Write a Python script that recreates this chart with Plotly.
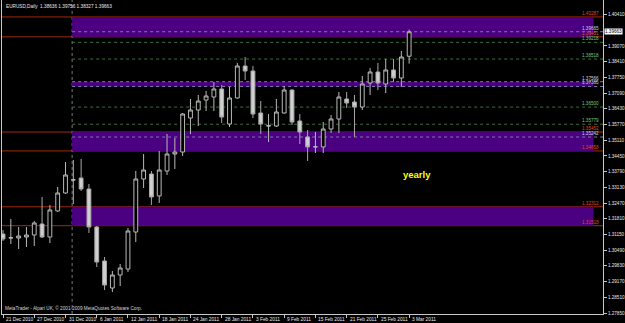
import plotly.graph_objects as go
from datetime import datetime

dates = ["2010-12-21","2010-12-22","2010-12-23","2010-12-24","2010-12-27","2010-12-28","2010-12-29",
         "2010-12-30","2010-12-31","2011-01-03","2011-01-04","2011-01-05","2011-01-06","2011-01-07",
         "2011-01-10","2011-01-11","2011-01-12","2011-01-13","2011-01-14","2011-01-17","2011-01-18",
         "2011-01-19","2011-01-20","2011-01-21","2011-01-24","2011-01-25","2011-01-26","2011-01-27",
         "2011-01-28","2011-01-31","2011-02-01","2011-02-02","2011-02-03","2011-02-04","2011-02-07",
         "2011-02-08","2011-02-09","2011-02-10","2011-02-11","2011-02-14","2011-02-15","2011-02-16",
         "2011-02-17","2011-02-18","2011-02-21","2011-02-22","2011-02-23","2011-02-24","2011-02-25",
         "2011-02-28","2011-03-01","2011-03-02","2011-03-03"]

opens = [1.31169, 1.31000, 1.31000, 1.31042, 1.31126, 1.31589, 1.31042, 1.32136, 1.32891, 1.33437,
         1.33521, 1.33059, 1.31462, 1.30034, 1.28900, 1.29446, 1.29698, 1.31252, 1.33479, 1.33689,
         1.32766, 1.33815, 1.34529, 1.34612, 1.36041, 1.36377, 1.36797, 1.36924, 1.37260, 1.35789,
         1.36882, 1.38226, 1.38016, 1.36251, 1.35705, 1.35705, 1.36251, 1.37218, 1.35915, 1.35243,
         1.34825, 1.34825, 1.35579, 1.35999, 1.36840, 1.36713, 1.36503, 1.37511, 1.37974, 1.37470,
         1.38058, 1.37722, 1.38636]
highs = [1.31336, 1.31799, 1.31462, 1.31462, 1.31715, 1.32724, 1.32388, 1.33143, 1.34193, 1.34277,
         1.34319, 1.33269, 1.31505, 1.30202, 1.29614, 1.29908, 1.31420, 1.33815, 1.34529, 1.33815,
         1.34654, 1.35369, 1.35201, 1.36251, 1.36840, 1.37007, 1.37176, 1.37554, 1.37428, 1.37344,
         1.38352, 1.38604, 1.38226, 1.36755, 1.36209, 1.36840, 1.37386, 1.37240, 1.36209, 1.35537,
         1.35453, 1.35873, 1.36167, 1.37133, 1.37133, 1.37007, 1.37806, 1.38142, 1.38352, 1.38520,
         1.38520, 1.38856, 1.39756]
lows = [1.30874, 1.30748, 1.30538, 1.30622, 1.30664, 1.31000, 1.30790, 1.32100, 1.32860, 1.32430,
        1.32975, 1.31210, 1.29782, 1.28816, 1.28732, 1.28984, 1.29572, 1.30832, 1.33101, 1.32388,
        1.32472, 1.33647, 1.33899, 1.34445, 1.35369, 1.35705, 1.36335, 1.36335, 1.35831, 1.35663,
        1.36860, 1.37638, 1.36041, 1.35369, 1.35033, 1.35663, 1.36230, 1.35747, 1.34949, 1.34235,
        1.34570, 1.34570, 1.35411, 1.35411, 1.36461, 1.35243, 1.36377, 1.37007, 1.37218, 1.37091,
        1.37554, 1.37344, 1.38327]
closes = [1.30958, 1.31010, 1.31084, 1.31126, 1.31631, 1.31042, 1.32178, 1.32891, 1.33647, 1.33447,
          1.33059, 1.31462, 1.29992, 1.29026, 1.29446, 1.29740, 1.31294, 1.33479, 1.33857, 1.32724,
          1.33857, 1.34529, 1.34612, 1.36209, 1.36377, 1.36755, 1.36966, 1.37260, 1.36083, 1.36882,
          1.38226, 1.38016, 1.36209, 1.35789, 1.35715, 1.36293, 1.37218, 1.35873, 1.35453, 1.34825,
          1.34835, 1.35579, 1.35999, 1.36924, 1.36671, 1.36503, 1.37470, 1.37974, 1.37511, 1.38058,
          1.37722, 1.38604, 1.39663]

price_ticks = [1.40410, 1.39070, 1.38410, 1.37750, 1.37090, 1.36430, 1.35770, 1.35110, 1.34450,
               1.33790, 1.33130, 1.32470, 1.31810, 1.31150, 1.30490, 1.29830, 1.29170, 1.28510, 1.27850]

zones = [(1.40287, 1.39451), (1.37566, 1.37365), (1.35452, 1.34658), (1.32312, 1.31518)]
red_levels = [1.40287, 1.39451, 1.35452, 1.34658, 1.32312, 1.31518]
green_levels = [1.39218, 1.38518, 1.36500, 1.35779]
light_levels = [1.39665, 1.37566, 1.37365, 1.35242]

title_text = "EURUSD,Daily  1.38636 1.39756 1.38327 1.39663"
copyright_text = "MetaTrader - Alpari UK, © 2001-2009 MetaQuotes Software Corp."
zone_label = "yearly"

x_idx = list(range(len(dates)))
XR = [-0.13, 76.82]
YR = [1.27808, 1.40998]
year_idx = next(i for i, d in enumerate(dates) if d.startswith("2011"))
sep_x = year_idx - 0.15
zone_end = 75.6

FONT = "Liberation Sans"

fig = go.Figure()
fig.add_trace(go.Candlestick(
    x=x_idx, open=opens, high=highs, low=lows, close=closes,
    increasing=dict(line=dict(color="#B8B8B8", width=1), fillcolor="#000000"),
    decreasing=dict(line=dict(color="#A8A8A8", width=1), fillcolor="#D0D0D0"),
    whiskerwidth=0, showlegend=False, hoverinfo="skip"))

shapes = []
for top, bot in zones:
    shapes.append(dict(type="rect", xref="x", yref="y", x0=sep_x, x1=zone_end, y0=bot, y1=top,
                       fillcolor="#4B0082", line=dict(width=0), layer="below"))
for v in green_levels:
    shapes.append(dict(type="line", xref="x", yref="y", x0=sep_x, x1=XR[1], y0=v, y1=v,
                       line=dict(color="#3A723A", width=1, dash="dot"), layer="below"))
for v in light_levels:
    shapes.append(dict(type="line", xref="x", yref="y", x0=sep_x, x1=XR[1], y0=v, y1=v,
                       line=dict(color="#7C7CA8", width=1, dash="dot"), layer="below"))
for v in red_levels:
    shapes.append(dict(type="line", xref="paper", yref="y", x0=0, x1=1, y0=v, y1=v,
                       line=dict(color="#A02A0A", width=1), layer="below"))
shapes.append(dict(type="line", xref="x", yref="paper", x0=sep_x, x1=sep_x, y0=0, y1=1,
                   line=dict(color="#787878", width=1, dash="dot"), layer="below"))

ann = []
ann.append(dict(text=title_text, xref="paper", yref="paper", x=0, y=1, xanchor="left", yanchor="top",
                xshift=2, yshift=-2, showarrow=False, font=dict(family=FONT, size=4.7, color="#E8E8E8")))
ann.append(dict(text=copyright_text, xref="paper", yref="paper", x=0, y=0, xanchor="left", yanchor="bottom",
                xshift=1, yshift=1, showarrow=False, font=dict(family=FONT, size=4.7, color="#D8D8D8")))
ann.append(dict(text="<b>" + zone_label + "</b>", xref="paper", yref="paper", x=0.69, y=0.443,
                xanchor="center", yanchor="middle", showarrow=False,
                font=dict(family="Liberation Sans", size=9.5, color="#FFFF00")))
for v in red_levels:
    ann.append(dict(text=f"{v:.5f}", xref="paper", yref="y", x=1, y=v, xanchor="right", yanchor="bottom",
                    xshift=-2, yshift=-1, showarrow=False, font=dict(family=FONT, size=4.6, color="#E04818")))
for v in green_levels:
    ann.append(dict(text=f"{v:.5f}", xref="paper", yref="y", x=1, y=v, xanchor="right", yanchor="bottom",
                    xshift=-2, yshift=-1, showarrow=False, font=dict(family=FONT, size=4.6, color="#78C878")))
for v in light_levels:
    ann.append(dict(text=f"{v:.5f}", xref="paper", yref="y", x=1, y=v, xanchor="right", yanchor="bottom",
                    xshift=-2, yshift=-1, showarrow=False, font=dict(family=FONT, size=4.6, color="#C8D0E0")))
# current price box
ann.append(dict(text=f"{closes[-1]:.5f}", xref="paper", yref="y", x=1, y=closes[-1], xanchor="left",
                yanchor="middle", xshift=1, showarrow=False, bgcolor="#FFFFFF", borderpad=0,
                font=dict(family=FONT, size=4.6, color="#000000")))
# date labels
for i in range(0, len(dates), 4):
    d = datetime.strptime(dates[i], "%Y-%m-%d")
    ann.append(dict(text=f"{d.day} {d.strftime('%b %Y')}", xref="x", yref="paper", x=i, y=0,
                    xanchor="left", yanchor="top", xshift=1, yshift=-1, showarrow=False,
                    font=dict(family=FONT, size=4.8, color="#E8E8E8")))

fig.update_layout(
    width=625, height=323,
    margin=dict(l=2, r=19, t=0, b=9),
    paper_bgcolor="#000000", plot_bgcolor="#000000",
    shapes=shapes, annotations=ann, showlegend=False,
    xaxis=dict(range=XR, showgrid=False, zeroline=False, showline=True, linecolor="#C8C8C8", linewidth=1,
               ticks="outside", ticklen=3, tickcolor="#C8C8C8", tickvals=list(range(0, len(dates), 4)),
               showticklabels=False, rangeslider=dict(visible=False), fixedrange=True),
    yaxis=dict(range=YR, side="right", showgrid=False, zeroline=False, showline=True, mirror=True,
               linecolor="#C8C8C8", linewidth=1, ticks="outside", ticklen=3, tickcolor="#C8C8C8",
               tickvals=price_ticks, ticktext=[f"{v:.5f}" for v in price_ticks],
               tickfont=dict(family=FONT, size=4.6, color="#E8E8E8"), fixedrange=True),
)

fig.write_html("out.html")
